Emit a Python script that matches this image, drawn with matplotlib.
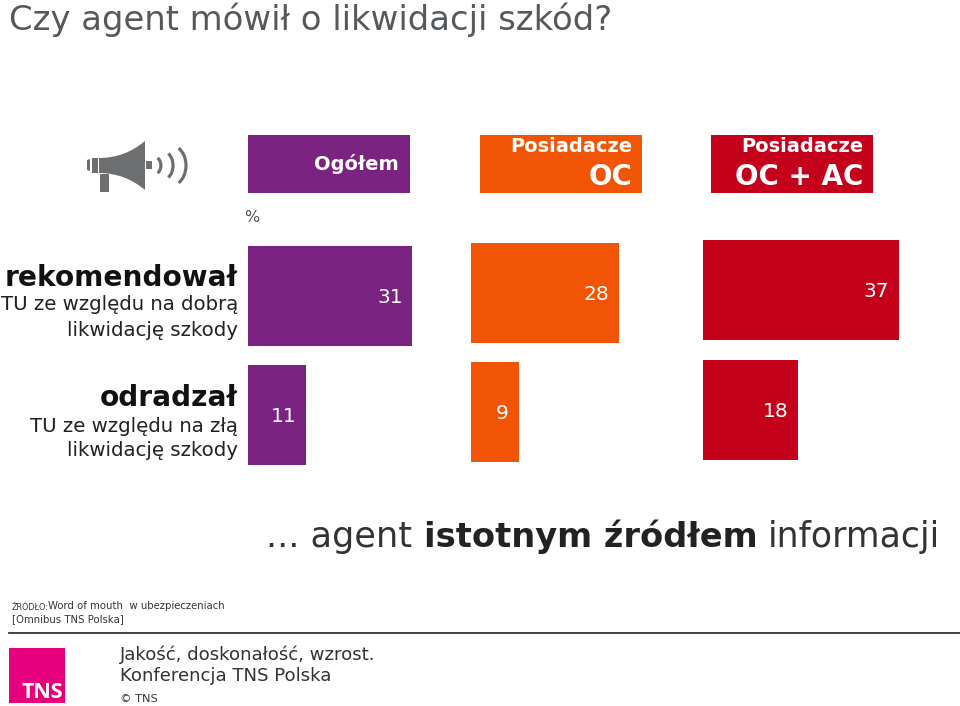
import matplotlib
matplotlib.use("Agg")
import matplotlib.pyplot as plt
from matplotlib.patches import Polygon, Rectangle, Arc, PathPatch
from matplotlib.path import Path

W, H = 960, 706
plt.rcParams['font.family'] = ['DejaVu Sans']

groups = ["Ogółem", "Posiadacze OC", "Posiadacze OC + AC"]
recommended = [31, 28, 37]
discouraged = [11, 9, 18]
colors = ["#7A2380", "#F25405", "#C4001A"]

fig = plt.figure(figsize=(W/100, H/100), dpi=100, facecolor="white")

bg = fig.add_axes([0, 0, 1, 1])
bg.set_xlim(0, W); bg.set_ylim(H, 0); bg.axis("off")

panel_x = [248, 471, 703]
panel_y = [(246, 465), (243, 462), (240, 460)]
px_per_unit = 5.3
panel_w = 225
for i in range(3):
    y0, y1 = panel_y[i]
    ax = fig.add_axes([panel_x[i]/W, 1 - y1/H, panel_w/W, (y1 - y0)/H])
    ax.patch.set_alpha(0)
    ax.axis("off")
    ax.set_xlim(0, panel_w/px_per_unit)
    ax.set_ylim(y1 - y0, 0)
    h = 100
    pos = [50, (y1 - y0) - 50]
    vals = [recommended[i], discouraged[i]]
    ax.barh(pos, vals, height=h, color=colors[i], linewidth=0)
    for p, v in zip(pos, vals):
        ax.annotate(str(v), (v, p), xytext=(-7, -1), textcoords="offset points",
                    ha="right", va="center", fontsize=14.5, color="white")

hdr = [(248, 410), (480, 642), (711, 873)]
for (a, b), c in zip(hdr, colors):
    bg.add_patch(Rectangle((a, 135), b - a, 58, color=c, lw=0))
bg.text(399, 164, groups[0], ha="right", va="center", fontsize=14, color="white", fontweight="bold")
bg.text(632, 147, "Posiadacze", ha="right", va="center", fontsize=14, color="white", fontweight="bold")
bg.text(632, 177, "OC", ha="right", va="center", fontsize=20, color="white", fontweight="bold")
bg.text(863, 147, "Posiadacze", ha="right", va="center", fontsize=14, color="white", fontweight="bold")
bg.text(863, 177, "OC + AC", ha="right", va="center", fontsize=20, color="white", fontweight="bold")

bg.text(9, 20, "Czy agent mówił o likwidacji szkód?", ha="left", va="center", fontsize=24.4, color="#55595C")
bg.text(252, 218, "%", ha="center", va="center", fontsize=11.5, color="#555555")

bg.text(238, 278, "rekomendował", ha="right", va="center", fontsize=20.2, fontweight="bold", color="#111111")
bg.text(238, 305, "TU ze względu na dobrą", ha="right", va="center", fontsize=14.2, color="#222222")
bg.text(238, 330, "likwidację szkody", ha="right", va="center", fontsize=14.2, color="#222222")
bg.text(238, 398, "odradzał", ha="right", va="center", fontsize=20.2, fontweight="bold", color="#111111")
bg.text(238, 426, "TU ze względu na złą", ha="right", va="center", fontsize=14.2, color="#222222")
bg.text(238, 450, "likwidację szkody", ha="right", va="center", fontsize=14.2, color="#222222")

bg.text(266, 537, "... agent ", ha="left", va="center", fontsize=25.3, color="#333333")
bg.text(424, 537, "istotnym źródłem", ha="left", va="center", fontsize=24.2, fontweight="bold", color="#222222")
bg.text(768, 537, "informacji", ha="left", va="center", fontsize=25, color="#333333")

bg.text(12, 607, "ŹRÓDŁO:", ha="left", va="center", fontsize=5.8, color="#333333")
bg.text(48, 606, "Word of mouth  w ubezpieczeniach", ha="left", va="center", fontsize=7.3, color="#333333")
bg.text(12, 619, "[Omnibus TNS Polska]", ha="left", va="center", fontsize=7.3, color="#333333")
bg.plot([9, 960], [633, 633], color="#333333", lw=1.3)

bg.add_patch(Rectangle((9, 648), 56, 55, color="#E6007E", lw=0))
bg.text(42.5, 692, "TNS", ha="center", va="center", fontsize=15.5, fontweight="bold", color="white", family="Open Sans")
bg.text(120, 655, "Jakość, doskonałość, wzrost.", ha="left", va="center", fontsize=13.1, color="#333333")
bg.text(120, 676, "Konferencja TNS Polska", ha="left", va="center", fontsize=13.1, color="#333333")
bg.text(120, 699, "© TNS", ha="left", va="center", fontsize=8.2, color="#333333")

grey = "#6D6E70"
bg.add_patch(Polygon([(87, 160), (90, 159), (90, 171), (87, 170)], color=grey, lw=0))
bg.add_patch(Rectangle((92, 158), 6, 15, color=grey, lw=0))
bg.add_patch(Rectangle((100, 174), 9, 18, color=grey, lw=0))
horn = Path([(99, 158), (125, 158), (145, 141), (145, 141), (145, 190), (145, 190), (125, 173), (99, 173), (99, 158)],
            [Path.MOVETO, Path.CURVE3, Path.CURVE3, Path.LINETO, Path.LINETO, Path.LINETO, Path.CURVE3, Path.CURVE3, Path.CLOSEPOLY])
bg.add_patch(PathPatch(horn, color=grey, lw=0))
bg.add_patch(Rectangle((146, 161), 6, 8, color=grey, lw=0))
for cx, a, hh in [(154, 6.9, 8.8), (162.7, 10.3, 14.3), (170.5, 15.5, 20.4)]:
    bg.add_patch(Arc((cx, 165.5), 2*a, 2*hh, theta1=-65, theta2=65, color=grey, lw=2.3))

fig.savefig("out.png", dpi=100, facecolor="white")
